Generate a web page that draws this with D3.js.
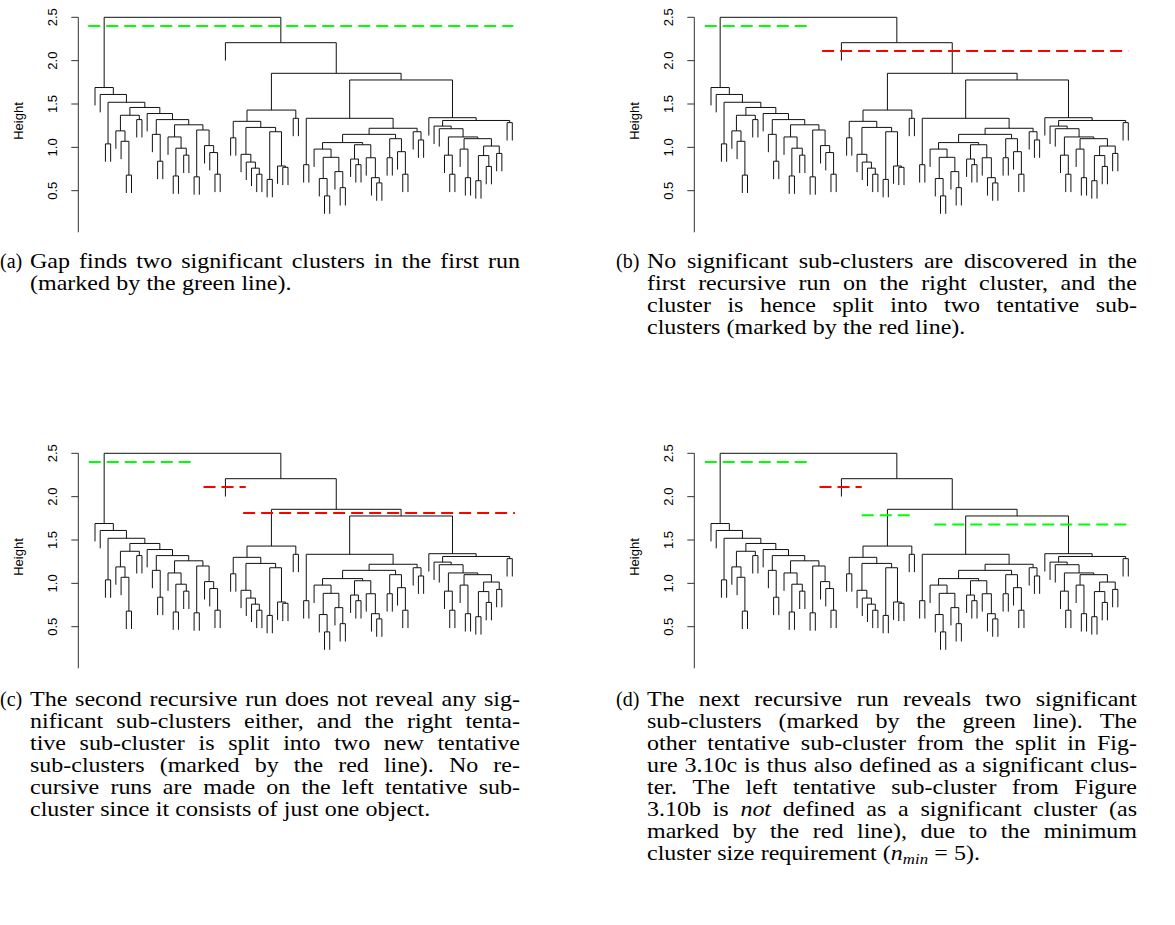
<!DOCTYPE html>
<html>
<head>
<meta charset="utf-8">
<script src="https://cdn.jsdelivr.net/npm/d3@7"></script>
<style>
  body { margin: 0; background: #fff; }
  svg { display: block; }
  .ax text { font-family: "Liberation Sans", Arial, sans-serif; font-size: 13px; fill: #000; }
  .cap text { font-family: "Liberation Serif", "Times New Roman", serif; font-size: 20px; fill: #000; }
</style>
</head>
<body>
<svg id="fig" width="1175" height="925"></svg>
<script>
// ---- dendrogram (hierarchical clustering of 81 objects) ----
// every merge is [height, left, right]; 0 stands for a single object
const leftCluster =
  [1.69, 0,
    [1.61, 0,
      [1.52, [1.04, 0, 0],
        [1.46,
          [1.37, [1.19, 0, [1.07, 0, [0.68, 0, 0]]], [1.32, 0, 0]],
          [1.39, 0,
            [1.32,
              [1.15, 0, [0.84, 0, 0]],
              [1.26,
                [1.12, 0, [0.99, [0.67, 0, 0], [0.91, 0, 0]]],
                [1.20, [0.66, 0, 0], [1.02, 0, [0.94, 0, [0.69, 0, 0]]]]
              ]
            ]
          ]
        ]
      ]
    ]
  ];

const middleCluster =
  [1.43,
    [1.30, [1.11, 0, 0],
      [1.23,
        [0.92, 0, [0.83, 0, [0.76, 0, [0.69, 0, 0]]]],
        [1.18, [0.63, 0, 0], [0.785, 0, [0.77, 0, 0]]]
      ]
    ],
    [1.335, 0, 0]
  ];

const rightClusterA =
  [1.335, [0.80, 0, 0],
    [1.22,
      [1.15,
        [1.055,
          [0.98, 0, [0.885, [0.64, 0, [0.44, 0, 0]], [0.72, 0, [0.535, 0, 0]]]],
          [1.03, [0.865, 0, [0.80, 0, 0]], [0.88, 0, [0.65, 0, [0.59, 0, 0]]]]
        ],
        [1.10, [0.88, 0, 0], [0.95, 0, [0.69, 0, 0]]]
      ],
      [1.18, 0, [1.085, 0, 0]]
    ]
  ];

const rightClusterB =
  [1.342, 0,
    [1.31,
      [1.245, 0,
        [1.215, 0,
          [1.12,
            [0.91, 0, [0.69, 0, 0]],
            [1.10,
              [0.98, 0, [0.65, 0, 0]],
              [1.015, [0.905, [0.615, 0, 0], [0.78, 0, 0]], [0.93, 0, 0]]
            ]
          ]
        ]
      ],
      [1.285, 0, 0]
    ]
  ];

// upper merges joining the clusters above
const tree =
  [2.5, leftCluster,
    [2.207, 0,
      [1.854, middleCluster, [1.777, rightClusterA, rightClusterB]]]];

const heightTicks = [0.5, 1.0, 1.5, 2.0, 2.5];
const heightTickLabels = ["0.5", "1.0", "1.5", "2.0", "2.5"];

// cut lines per step, in object-order units: [height, from, to, colour]
const cutsA = [[2.40, -0.3, 81.2, "green"]];
const cutsB = [[2.40, -0.2, 19.6, "green"], [2.11, 22.3, 81.0, "red"]];
const cutsC = [[2.40, -0.2, 19.6, "green"], [2.11, 21.8, 29.9, "red"], [1.81, 29.4, 81.5, "red"]];
const cutsD = [[2.40, -0.2, 19.6, "green"], [2.11, 21.8, 29.9, "red"], [1.785, 29.9, 39.2, "green"], [1.68, 43.8, 81.0, "green"]];

const colours = { green: "#00ff00", red: "#ff0000" };

// ---- captions ----
const captionA = ["Gap finds two significant clusters in the first run",
                  "(marked by the green line)."];
const captionB = ["No significant sub-clusters are discovered in the",
                  "first recursive run on the right cluster, and the",
                  "cluster is hence split into two tentative sub-",
                  "clusters (marked by the red line)."];
const captionC = ["The second recursive run does not reveal any sig-",
                  "nificant sub-clusters either, and the right tenta-",
                  "tive sub-cluster is split into two new tentative",
                  "sub-clusters (marked by the red line). No re-",
                  "cursive runs are made on the left tentative sub-",
                  "cluster since it consists of just one object."];
const captionD = ["The next recursive run reveals two significant",
                  "sub-clusters (marked by the green line). The",
                  "other tentative sub-cluster from the split in Fig-",
                  "ure 3.10c is thus also defined as a significant clus-",
                  "ter. The left tentative sub-cluster from Figure",
                  "3.10b is *not* defined as a significant cluster (as",
                  "marked by the red line), due to the minimum",
                  "cluster size requirement (*n*_{min} = 5)."];

// ---- build hierarchy ----
function toNode(t) {
  return t === 0 ? { h: null } : { h: t[0], children: [toNode(t[1]), toNode(t[2])] };
}
const root = d3.hierarchy(toNode(tree));
const leaves = root.leaves();
const nLeaves = leaves.length;
const mergeHeights = root.descendants().filter(d => d.children).map(d => d.data.h);
const hang = 0.1 * (d3.max(mergeHeights) - d3.min(mergeHeights));

const x = d3.scaleLinear().domain([1, nLeaves]).range([95, 512.3]);
const y = d3.scaleLinear().domain([0.5, 2.5]).range([190.7, 17.3]);

leaves.forEach((d, i) => { d.pos = i + 1; });
root.eachAfter(d => { if (d.children) d.pos = (d.children[0].pos + d.children[1].pos) / 2; });

const svg = d3.select("#fig");
svg.append("rect").attr("width", 1175).attr("height", 925).attr("fill", "#fff");

function drawPanel(dx, dy, cuts) {
  const g = svg.append("g").attr("transform", `translate(${dx},${dy})`);

  // branches
  const linkPath = d => {
    const [a, b] = d.children;
    const top = c => c.children ? y(c.data.h) : y(d.data.h - hang);
    return `M${x(a.pos)},${top(a)}V${y(d.data.h)}H${x(b.pos)}V${top(b)}`;
  };
  g.append("g")
    .selectAll("path")
    .data(root.descendants().filter(d => d.children))
    .join("path")
    .attr("d", linkPath)
    .attr("fill", "none")
    .attr("stroke", "#111")
    .attr("stroke-width", 1);

  // y axis, placed at the left edge of the plotting range
  const axisX = x(1 - 0.04 * (nLeaves - 1));
  const ax = g.append("g").attr("class", "ax").attr("transform", `translate(${axisX},0)`);
  ax.append("line")
    .attr("y1", y(2.5)).attr("y2", y(0.02))
    .attr("stroke", "#333").attr("stroke-width", 1);
  ax.selectAll("line.tick")
    .data(heightTicks)
    .join("line")
    .attr("class", "tick")
    .attr("x1", -7).attr("x2", 0)
    .attr("y1", d => y(d)).attr("y2", d => y(d))
    .attr("stroke", "#333");
  ax.selectAll("text.tl")
    .data(heightTicks)
    .join("text")
    .attr("class", "tl")
    .attr("text-anchor", "middle")
    .attr("transform", d => `translate(-21.8,${y(d)}) rotate(-90)`)
    .text((d, i) => heightTickLabels[i]);
  ax.append("text")
    .attr("text-anchor", "middle")
    .attr("transform", `translate(${22.5 - axisX},121) rotate(-90)`)
    .text("Height");

  // cut lines
  g.append("g")
    .selectAll("line")
    .data(cuts)
    .join("line")
    .attr("x1", d => x(d[1])).attr("x2", d => x(d[2]))
    .attr("y1", d => y(d[0])).attr("y2", d => y(d[0]))
    .attr("stroke", d => colours[d[3]])
    .attr("stroke-width", 2)
    .attr("stroke-dasharray", "12,6");
}

// write a word that may contain *italic* and _{subscript} runs
function addRuns(t, word) {
  const parts = word.split(/(\*[^*]+\*|_\{[^}]+\})/).filter(s => s.length);
  parts.forEach(p => {
    if (p.startsWith("*")) {
      t.append("tspan").attr("font-style", "italic").text(p.slice(1, -1));
    } else if (p.startsWith("_{")) {
      t.append("tspan").attr("font-style", "italic").attr("font-size", "14px")
        .attr("dy", 4).text(p.slice(2, -1));
      t.append("tspan").attr("dy", -4).text("");
    } else {
      t.append("tspan").text(p);
    }
  });
}

// caption body text is set wide, so its glyphs are stretched horizontally
const capStretch = 1.2;

function drawCaption(label, lines, labelX, left, right, baseY) {
  const cap = svg.append("g").attr("class", "cap");
  cap.append("text").attr("x", labelX).attr("y", baseY).text(label);
  const g = cap.append("g").attr("transform", `scale(${capStretch},1)`);
  const s = capStretch;
  const space = 5.2;
  lines.forEach((line, i) => {
    const words = line.split(" ");
    const yy = baseY + i * 22;
    const els = words.map(w => {
      const t = g.append("text").attr("y", yy);
      addRuns(t, w);
      return t;
    });
    const widths = els.map(t => t.node().getComputedTextLength());
    const last = i === lines.length - 1;
    const gap = (last || words.length < 2) ? space
      : ((right - left) / s - d3.sum(widths)) / (words.length - 1);
    let cx = left / s;
    els.forEach((t, j) => { t.attr("x", cx); cx += widths[j] + gap; });
  });
}

const colDX = 616, rowDY = 436;
drawPanel(0, 0, cutsA);
drawPanel(colDX, 0, cutsB);
drawPanel(0, rowDY, cutsC);
drawPanel(colDX, rowDY, cutsD);

drawCaption("(a)", captionA, 0, 30, 520, 268);
drawCaption("(b)", captionB, colDX, colDX + 31, colDX + 521, 268);
drawCaption("(c)", captionC, 0, 30, 520, 268 + 438);
drawCaption("(d)", captionD, colDX, colDX + 31, colDX + 521, 268 + 438);
</script>
</body>
</html>
